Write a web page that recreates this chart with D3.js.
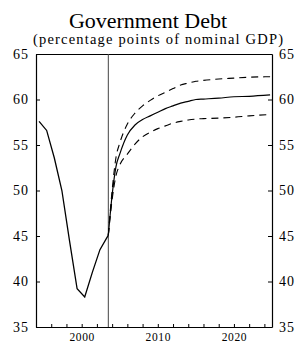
<!DOCTYPE html>
<html lang="en">
<head>
<meta charset="UTF-8">
<title>Government Debt</title>
<script src="https://d3js.org/d3.v7.min.js"></script>
<style>
    body { margin: 0; background: #fff; }
    svg text { font-family: "Liberation Serif", "Times New Roman", serif; fill: #000; }
</style>
</head>
<body>
<div id="fig"></div>
<script>
    // historical debt, annual
    let histYears = [1994.4, 1995.4, 1996.4, 1997.4, 1998.4, 1999.4, 2000.4, 2001.4, 2002.4, 2003.5];
    let histDebt = [57.6, 56.6, 53.6, 50.0, 44.5, 39.2, 38.3, 41.0, 43.5, 45.1];

    // projection with upper/lower bands
    let fcYears = [2003.5, 2004, 2004.5, 2005, 2006, 2007, 2008, 2009, 2010, 2011, 2012, 2013, 2014, 2015, 2016, 2018, 2020, 2022, 2024.75];
    let fcMid = [45.1, 49.5, 52.6, 54.0, 56.1, 57.2, 57.8, 58.2, 58.6, 59.0, 59.3, 59.6, 59.8, 60.0, 60.05, 60.15, 60.3, 60.35, 60.5];
    let fcUpper = [45.1, 50.0, 53.6, 55.2, 57.3, 58.5, 59.3, 59.9, 60.4, 60.8, 61.2, 61.6, 61.8, 62.0, 62.1, 62.25, 62.35, 62.45, 62.5];
    let fcLower = [45.1, 49.0, 51.6, 52.8, 54.0, 55.1, 55.9, 56.4, 56.8, 57.1, 57.4, 57.6, 57.75, 57.85, 57.9, 57.95, 58.05, 58.2, 58.35];

    let splitYear = 2003.5;
    let yTicks = [35, 40, 45, 50, 55, 60, 65];
    let xLabels = [2000, 2010, 2020];
    let xMinor = d3.range(1996, 2025, 2);

    let W = 298, H = 344;
    let margin = {top: 54, right: 26, bottom: 17, left: 36};
    let serif = '"Liberation Serif", "Times New Roman", serif';

    let svg = d3.select("#fig").append("svg")
        .attr("width", W).attr("height", H);

    let x = d3.scaleLinear().domain([1994, 2025]).range([margin.left, W - margin.right]);
    let y = d3.scaleLinear().domain([35, 65]).range([H - margin.bottom, margin.top]);

    // title
    svg.append("text").attr("x", 148).attr("y", 28)
        .attr("text-anchor", "middle").style("font-size", "22px")
        .text("Government Debt");
    svg.append("text").attr("x", 158).attr("y", 44)
        .attr("text-anchor", "middle").style("font-size", "14.5px")
        .attr("textLength", 250).attr("lengthAdjust", "spacing")
        .text("(percentage points of nominal GDP)");

    // axes
    let gLeft = svg.append("g").attr("transform", `translate(${margin.left},0)`)
        .call(d3.axisLeft(y).tickValues(yTicks).tickSizeInner(-4).tickSizeOuter(0).tickPadding(7));
    let gRight = svg.append("g").attr("transform", `translate(${W - margin.right},0)`)
        .call(d3.axisRight(y).tickValues(yTicks).tickSizeInner(-4).tickSizeOuter(0).tickPadding(7));
    let gBottom = svg.append("g").attr("transform", `translate(0,${H - margin.bottom})`)
        .call(d3.axisBottom(x).tickValues(xMinor).tickSizeInner(-3).tickSizeOuter(0)
            .tickFormat(d => xLabels.includes(d) ? d : "").tickPadding(6));
    let gTop = svg.append("g").attr("transform", `translate(0,${margin.top})`)
        .call(d3.axisTop(x).tickValues([]).tickSizeOuter(0));

    [gLeft, gRight, gTop, gBottom].forEach(g => {
        g.attr("font-family", serif);
        g.selectAll("path.domain").attr("stroke", "#000").attr("stroke-width", 1.2);
        g.selectAll(".tick line").attr("stroke", "#000");
    });
    gLeft.attr("font-size", 14).selectAll("text").attr("letter-spacing", "1px");
    gRight.attr("font-size", 14).selectAll("text").attr("letter-spacing", "1px");
    gBottom.attr("font-size", 11.5).selectAll("text").attr("letter-spacing", "0.6px");

    // forecast start line
    svg.append("line")
        .attr("x1", x(splitYear)).attr("x2", x(splitYear))
        .attr("y1", y(65)).attr("y2", y(35))
        .attr("stroke", "#444").attr("stroke-width", 1);

    let line = d3.line().x(d => x(d[0])).y(d => y(d[1]));

    svg.append("path").datum(d3.zip(histYears, histDebt))
        .attr("d", line).attr("fill", "none")
        .attr("stroke", "#000").attr("stroke-width", 1.3);

    let lineCurve = d3.line().x(d => x(d[0])).y(d => y(d[1])).curve(d3.curveMonotoneX);

    svg.append("path").datum(d3.zip(fcYears, fcMid))
        .attr("d", lineCurve).attr("fill", "none")
        .attr("stroke", "#000").attr("stroke-width", 1.2);

    [fcUpper, fcLower].forEach(vals => {
        svg.append("path").datum(d3.zip(fcYears, vals))
            .attr("d", lineCurve).attr("fill", "none")
            .attr("stroke", "#000").attr("stroke-width", 1.1)
            .attr("stroke-dasharray", "7,5");
    });
</script>
</body>
</html>
